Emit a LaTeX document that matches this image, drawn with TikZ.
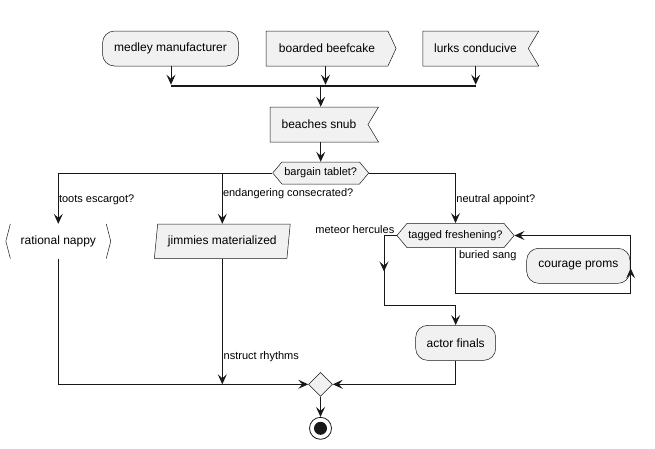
\documentclass[tikz,border=0pt]{standalone}
\usepackage{fontspec}
\setmainfont{Liberation Sans}
\usetikzlibrary{arrows.meta, positioning, calc, shapes.geometric, shapes.symbols}
\definecolor{boxfill}{HTML}{F1F1F1}
\definecolor{ink}{HTML}{181818}
\tikzset{
  actfont/.style={font=\fontsize{12}{14}\selectfont, inner sep=0pt, minimum height=35pt},
  act/.style={actfont, draw=ink, line width=0.5pt, fill=boxfill, rounded corners=12pt},
  sendbox/.style={act, sharp corners, shape=signal, signal to=east, signal pointer angle=130},
  recvbox/.style={act, sharp corners, shape=signal, signal to=nowhere, signal from=east, signal pointer angle=118},
  ifbox/.style={act, sharp corners, shape=signal, signal to=west and east, signal pointer angle=100,
    minimum height=22pt, font=\fontsize{11}{13}\selectfont},
  slantbox/.style={act, sharp corners, shape=trapezium, trapezium left angle=76,
    trapezium right angle=104, trapezium stretches=true},
  guard/.style={font=\fontsize{11}{13}\selectfont, inner sep=0.5pt},
  flow/.style={draw=ink, line width=1pt},
  arr/.style={flow, -{Stealth[length=10pt,width=9pt,inset=4pt]}},
}
\begin{document}
\begin{tikzpicture}[x=1pt, y=-1pt]
  \useasboundingbox (0,0) rectangle (655,448);

  % fork of the three starts
  \node[act, minimum width=136pt] (medley) at (170.5,48.5) {medley manufacturer};
  \node[sendbox, minimum width=130pt] (boarded) at (327,48.5) {boarded beefcake};
  \node[recvbox, minimum width=116pt] (lurks) at (475.5,48.5) {lurks conducive};
  \coordinate (barL) at (171,85.7);
  \coordinate (barB) at (325.5,85.7);
  \coordinate (barR) at (475.7,85.7);
  \coordinate (barM) at (320.7,85.7);
  \draw[arr, shorten >=1pt] (barL |- medley.south) -- (barL);
  \draw[arr, shorten >=1pt] (barB |- boarded.south) -- (barB);
  \draw[arr, shorten >=1pt] (barR |- lurks.south) -- (barR);
  \draw[ink, line width=2pt] (barL) -- (barR);

  \node[recvbox, minimum width=108.5pt] (beaches) at (319,124.5) {beaches snub};
  \draw[arr, shorten <=1pt] (barM) -- (barM |- beaches.north);
  \node[ifbox, minimum width=96pt] (bargain) at (320.7,173) {bargain tablet?};
  \draw[arr] (barM |- beaches.south) -- (bargain.north);

  % three branches
  \node[actfont, minimum width=95.5pt, minimum height=34.3pt] (nappy) at (58.3,241.2) {rational nappy};
  \draw[ink, line width=0.5pt] (nappy.north west) -- ([xshift=-4.5pt]nappy.west) -- (nappy.south west)
    (nappy.north east) -- ([xshift=4.5pt]nappy.east) -- (nappy.south east);
  \node[slantbox, minimum width=136pt, minimum height=34.3pt] (jimmies) at (222.3,241.2) {jimmies materialized};
  \node[ifbox, minimum width=117.3pt, minimum height=24.4pt] (tagged) at (455.5,235.5) {tagged freshening?};
  \draw[arr] (bargain.west) -| (nappy.north);
  \draw[arr] (jimmies.north |- bargain.west) -- (jimmies.north);
  \draw[arr] (bargain.east) -| (tagged.north);
  \node[guard, anchor=west] (gToots) at (58.3,200) {toots escargot?};
  \node[guard, anchor=west] (gEndanger) at (222.3,194) {endangering consecrated?};
  \node[guard, anchor=west] (gNeutral) at (455.7,200) {neutral appoint?};

  % while loop
  \node[act, minimum width=103.3pt] (courage) at (578.35,265.8) {courage proms};
  \node[guard, anchor=east] (gMeteor) at (395,229.5) {meteor hercules};
  \node[guard, anchor=west] (gBuried) at (458.3,256) {buried sang};
  \coordinate (loopR) at (630.7,293.3);
  \draw[flow] (tagged.south) |- (loopR);
  \draw[arr] (loopR) |- (tagged.east);
  \draw[arr] (loopR) -- ++(0,-25);
  \coordinate (exitL) at (384,305);
  \node[act, minimum width=80pt] (actor) at (455.7,342.85) {actor finals};
  \draw[arr] (tagged.west) -| (exitL) -| (actor.north);
  \draw[arr] (exitL |- tagged.west) -- ++(0,36);

  % merge and stop
  \node[diamond, draw=ink, line width=0.5pt, fill=boxfill, minimum size=24pt, inner sep=0pt] (merge) at (320.5,384.3) {};
  \draw[arr] (nappy.south) |- (merge.west);
  \draw[arr] (jimmies.south) -- (jimmies.south |- merge.west);
  \draw[arr] (actor.south) |- (merge.east);
  \node[guard, anchor=west] (gInstruct) at (223,357) {nstruct rhythms};
  \node[circle, draw=ink, line width=0.8pt, fill=white, minimum size=22pt, inner sep=0pt] (stop) at (320.5,428.3) {};
  \node[circle, fill=ink, minimum size=13pt, inner sep=0pt] (stopDot) at (stop) {};
  \draw[arr] (merge.south) -- (stop.north);
\end{tikzpicture}
\end{document}
